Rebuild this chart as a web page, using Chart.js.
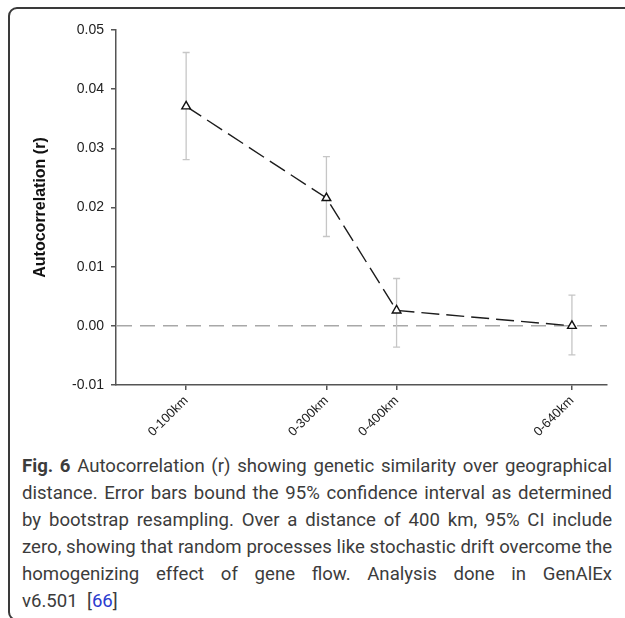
<!DOCTYPE html>
<html><head><meta charset="utf-8">
<script src="https://cdn.jsdelivr.net/npm/chart.js@4"></script>
<style>
html,body{margin:0;padding:0;background:#fff;}
body{width:625px;height:618px;position:relative;overflow:hidden;}
#frame{position:absolute;left:8px;top:7px;width:660px;height:614px;border:2px solid #3a3a3a;border-radius:9px;box-sizing:border-box;}
#chartbox{position:absolute;left:0;top:0;width:625px;height:450px;}
#caption{position:absolute;left:22px;top:453px;width:590px;font-family:Roboto,'Open Sans',sans-serif;font-size:18.6px;line-height:27px;color:#3c3c3c;}
.ln{text-align:justify;text-align-last:justify;white-space:nowrap;}
.last{text-align:left;white-space:nowrap;}
.ref{color:#2a3bd0;}
</style></head>
<body>
<div id="frame"></div>
<div id="chartbox"><canvas id="c" width="625" height="450"></canvas></div>
<div id="caption">
<div class="ln"><b>Fig. 6</b> Autocorrelation (r) showing genetic similarity over geographical</div>
<div class="ln">distance. Error bars bound the 95% confidence interval as determined</div>
<div class="ln">by bootstrap resampling. Over a distance of 400&nbsp;km, 95% CI include</div>
<div class="ln">zero, showing that random processes like stochastic drift overcome the</div>
<div class="ln">homogenizing effect of gene flow. Analysis done in GenAlEx</div>
<div class="last">v6.501&nbsp; [<span class="ref">66</span>]</div>
</div>
<script>
const categories = ['0-100km', '0-300km', '0-400km', '0-640km'];
const distanceKm = [100, 300, 400, 650];
const autocorr = [0.0371, 0.0216, 0.0026, 0.0000];
const ciUpper = [0.0462, 0.0286, 0.0080, 0.0052];
const ciLower = [0.0281, 0.0151, -0.0036, -0.0049];
const yTicks = [-0.01, 0.00, 0.01, 0.02, 0.03, 0.04, 0.05];
const zeroLine = 0;

const errorBars = {
  id: 'errorBars',
  beforeDatasetsDraw(chart) {
    const {ctx, chartArea, scales: {x, y}} = chart;
    ctx.save();
    const zy = y.getPixelForValue(zeroLine);
    ctx.strokeStyle = '#a8a8a8';
    ctx.lineWidth = 1.5;
    ctx.setLineDash([15, 8]);
    ctx.beginPath();
    ctx.moveTo(chartArea.left + 1, zy);
    ctx.lineTo(chartArea.right, zy);
    ctx.stroke();
    ctx.setLineDash([]);
    ctx.strokeStyle = '#c6c6c6';
    ctx.lineWidth = 1.3;
    distanceKm.forEach((d, i) => {
      const px = x.getPixelForValue(d);
      const pt = y.getPixelForValue(ciUpper[i]);
      const pb = y.getPixelForValue(ciLower[i]);
      ctx.beginPath();
      ctx.moveTo(px, pt); ctx.lineTo(px, pb);
      ctx.moveTo(px - 3.5, pt); ctx.lineTo(px + 3.5, pt);
      ctx.moveTo(px - 3.5, pb); ctx.lineTo(px + 3.5, pb);
      ctx.stroke();
    });
    ctx.restore();
  }
};

new Chart(document.getElementById('c'), {
  type: 'line',
  data: {
    datasets: [{
      data: distanceKm.map((d, i) => ({x: d, y: autocorr[i]})),
      borderColor: '#1c1c1c',
      borderWidth: 1.4,
      borderDash: [18, 7],
      tension: 0,
      fill: false,
      pointStyle: 'triangle',
      pointRadius: 5,
      pointBackgroundColor: '#ffffff',
      pointBorderColor: '#111111',
      pointBorderWidth: 1.4
    }]
  },
  options: {
    responsive: false,
    animation: false,
    devicePixelRatio: 1,
    layout: {padding: {top: 30, right: 18, bottom: 0, left: 0}},
    plugins: {legend: {display: false}, tooltip: {enabled: false}},
    scales: {
      x: {
        type: 'linear',
        min: 0, max: 700,
        afterBuildTicks: s => { s.ticks = distanceKm.map(v => ({value: v})); },
        afterFit: s => { s.height = 65; },
        ticks: {
          autoSkip: false,
          minRotation: 45, maxRotation: 45,
          padding: 3,
          color: '#222',
          font: {family: 'Liberation Sans', size: 13},
          callback: v => categories[distanceKm.indexOf(v)]
        },
        grid: {display: true, drawOnChartArea: false, drawTicks: true, tickLength: 5, color: '#555', lineWidth: 1.5},
        border: {display: true, color: '#555', width: 1.5}
      },
      y: {
        min: -0.01, max: 0.05,
        afterBuildTicks: s => { s.ticks = yTicks.map(v => ({value: v})); },
        afterFit: s => { s.width = 116; },
        ticks: {
          padding: 7,
          color: '#222',
          font: {family: 'Liberation Sans', size: 14},
          callback: v => Number(v).toFixed(2)
        },
        grid: {display: true, drawOnChartArea: false, drawTicks: true, tickLength: 5, color: '#555', lineWidth: 1.5},
        border: {display: true, color: '#555', width: 1.5},
        title: {
          display: true,
          text: 'Autocorrelation (r)',
          color: '#111',
          font: {family: 'Liberation Sans', size: 16, weight: 'bold'},
          padding: {top: 31, bottom: 0}
        }
      }
    }
  },
  plugins: [errorBars]
});
</script>
</body></html>
